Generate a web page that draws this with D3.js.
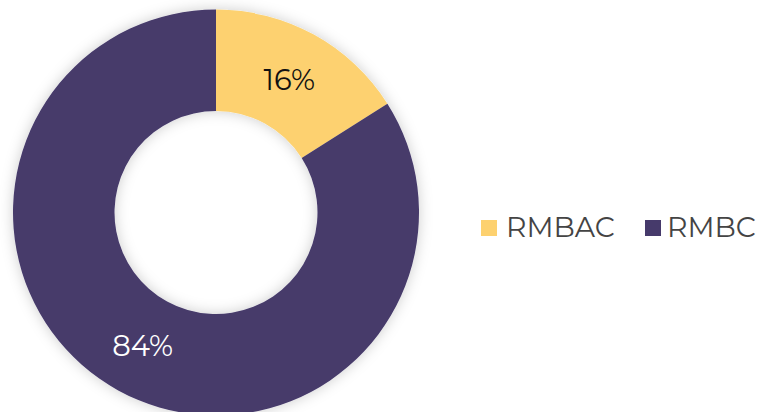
<!DOCTYPE html>
<html><head><meta charset="utf-8">
<script src="https://cdn.jsdelivr.net/npm/d3@7"></script>
<style>body{margin:0;background:#fff}svg{display:block}</style>
</head><body>
<svg id="c" width="760" height="412"></svg>
<script>
const categories = ["RMBAC", "RMBC"];
const values = [16, 84];
const labels = ["16%", "84%"];
const colors = ["#FDD16F", "#463A6B"];
const labelColors = ["#111111", "#ffffff"];

const svg = d3.select("#c");
const defs = svg.append("defs");
const f = defs.append("filter").attr("id","sh").attr("x","-20%").attr("y","-20%").attr("width","140%").attr("height","140%");
f.append("feDropShadow").attr("dx",0).attr("dy",0).attr("stdDeviation",7).attr("flood-color","#000").attr("flood-opacity",0.2);

const cx = 216, cy = 212.5, R = 203, r = 101.5;
const pie = d3.pie().sort(null).value(d => d)(values);
const arc = d3.arc().innerRadius(r).outerRadius(R);
const g = svg.append("g").attr("transform", `translate(${cx},${cy})`);
g.append("g").attr("filter","url(#sh)").selectAll("path").data(pie).join("path")
  .attr("d", arc).attr("fill", (d,i) => colors[i]);
g.selectAll("text").data(pie).join("text")
  .attr("transform", d => `translate(${arc.centroid(d)})`)
  .attr("text-anchor","middle").attr("dy","0.36em")
  .attr("font-family","Montserrat, Lato, sans-serif").attr("font-size",29)
  .attr("fill",(d,i)=>labelColors[i]).text((d,i)=>labels[i]);

const leg = svg.append("g");
const lx = [481, 645], tx = [506, 667];
categories.forEach((c,i)=>{
  leg.append("rect").attr("x",lx[i]).attr("y",220).attr("width",16).attr("height",16).attr("fill",colors[i]);
  leg.append("text").attr("x",tx[i]).attr("y",237).attr("font-family","Montserrat, Lato, sans-serif")
    .attr("font-size",28.3).attr("fill","#444").text(c);
});
</script>
</body></html>
